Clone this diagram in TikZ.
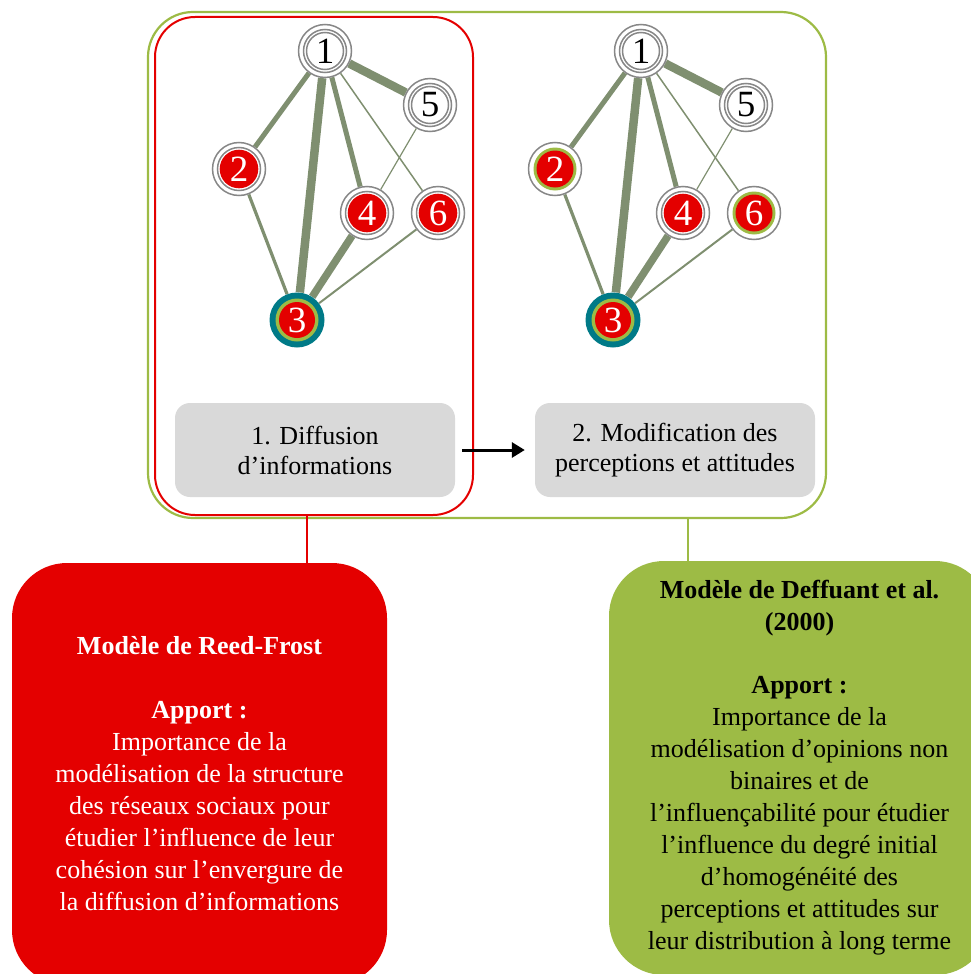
\documentclass[tikz,border=0pt]{standalone}
\usepackage{fontspec}
\setmainfont{Liberation Serif}
\usetikzlibrary{arrows.meta,backgrounds}
\definecolor{myred}{RGB}{228,0,0}
\definecolor{mygreen}{RGB}{157,187,69}
\definecolor{edgecol}{RGB}{127,143,112}
\definecolor{ringgray}{RGB}{135,135,135}
\definecolor{myteal}{RGB}{0,122,135}
\definecolor{boxgray}{RGB}{217,217,217}
\newcommand\numfont{\fontsize{37}{37}\selectfont}
\tikzset{
  ring/.style={circle, minimum size=53pt, inner sep=0pt, draw=ringgray, line width=1.5pt, fill=white, font=\numfont},
  wnode/.style={ring, text=black, path picture={\draw[ringgray, line width=1.5pt] (path picture bounding box.center) circle (21.5pt) circle (18.5pt);}},
  rnode/.style={ring, text=white, path picture={\draw[ringgray, line width=1.5pt] (path picture bounding box.center) circle (21.5pt); \fill[myred] (path picture bounding box.center) circle (19.3pt);}},
  gnode/.style={ring, text=white, path picture={\fill[mygreen] (path picture bounding box.center) circle (21.5pt); \fill[myred] (path picture bounding box.center) circle (18.5pt);}},
  tnode/.style={circle, minimum size=55pt, inner sep=0pt, fill=myteal, text=white, font=\numfont, path picture={\fill[mygreen] (path picture bounding box.center) circle (21.5pt); \fill[myred] (path picture bounding box.center) circle (18pt);}},
  edge/.style={draw=edgecol},
  stepbox/.style={rectangle, rounded corners=15pt, fill=boxgray, minimum width=280pt, minimum height=94pt, align=center, font=\fontsize{26}{30}\selectfont},
  modelbox/.style={rectangle, rounded corners=55pt, align=center, inner sep=0pt, font=\fontsize{26}{32}\selectfont},
}
\newcommand\netgraph[4]{%
  \begin{scope}[xshift=#2]
    \node[wnode] (#1n1) at (325,51) {1};
    \node[wnode] (#1n5) at (430,105) {5};
    \node[#3] (#1n2) at (239,169) {2};
    \node[rnode] (#1n4) at (367,213) {4};
    \node[#4] (#1n6) at (438,213) {6};
    \node[tnode] (#1n3) at (297,320) {3};
  \end{scope}
  \begin{scope}[on background layer]
    \draw[edge, line width=8.5pt] (#1n1) -- (#1n5);
    \draw[edge, line width=5pt] (#1n1) -- (#1n2);
    \draw[edge, line width=8.5pt] (#1n1) -- (#1n3);
    \draw[edge, line width=5pt] (#1n1) -- (#1n4);
    \draw[edge, line width=1.5pt] (#1n1) -- (#1n6);
    \draw[edge, line width=1.2pt] (#1n5) -- (#1n4);
    \draw[edge, line width=3.2pt] (#1n2) -- (#1n3);
    \draw[edge, line width=7.5pt] (#1n4) -- (#1n3);
    \draw[edge, line width=2pt] (#1n6) -- (#1n3);
  \end{scope}
}
\begin{document}
\begin{tikzpicture}[x=1pt,y=-1pt]
\useasboundingbox (0,0) rectangle (971,974);
% frames
\node[draw=mygreen, line width=2.2pt, rounded corners=45pt, minimum width=678pt, minimum height=506pt, inner sep=0pt] (frameG) at (487,265) {};
\node[draw=myred, line width=2pt, rounded corners=40pt, minimum width=318pt, minimum height=498pt, inner sep=0pt] (frameR) at (314,266) {};
% networks
\netgraph{L}{0pt}{rnode}{rnode}
\netgraph{R}{316pt}{gnode}{gnode}
% step boxes
\node[stepbox] (s1) at (315,450) {1. Diffusion\\d'informations};
\node[stepbox] (s2) at (675,450) {2. Modification des\\perceptions et attitudes};
\draw[-{Triangle[length=13pt,width=15pt]}, line width=3pt, shorten >=10pt, shorten <=7pt] (s1) -- (s2);
% model boxes
\node[modelbox, fill=myred, text=white, minimum width=375pt, minimum height=422pt] (mR) at (199.5,774) {%
\textbf{Modèle de Reed-Frost}\\[32pt]
\textbf{Apport :}\\
Importance de la\\
modélisation de la structure\\
des réseaux sociaux pour\\
étudier l'influence de leur\\
cohésion sur l'envergure de\\
la diffusion d'informations};
\node[modelbox, fill=mygreen, text=black, minimum width=381pt, minimum height=414pt] (mG) at (799.5,768) {%
\textbf{Modèle de Deffuant et al.}\\
\textbf{(2000)}\\[31pt]
\textbf{Apport :}\\
Importance de la\\
modélisation d'opinions non\\
binaires et de\\
l'influençabilité pour étudier\\
l'influence du degré initial\\
d'homogénéité des\\
perceptions et attitudes sur\\
leur distribution à long terme};
% connectors
\coordinate (cR) at (307,540);
\coordinate (cG) at (688,540);
\draw[myred, line width=2pt] (cR |- frameR.south) -- (cR |- mR.north);
\draw[mygreen, line width=2.2pt] (cG |- frameG.south) -- (cG |- mG.north);
\end{tikzpicture}
\end{document}
